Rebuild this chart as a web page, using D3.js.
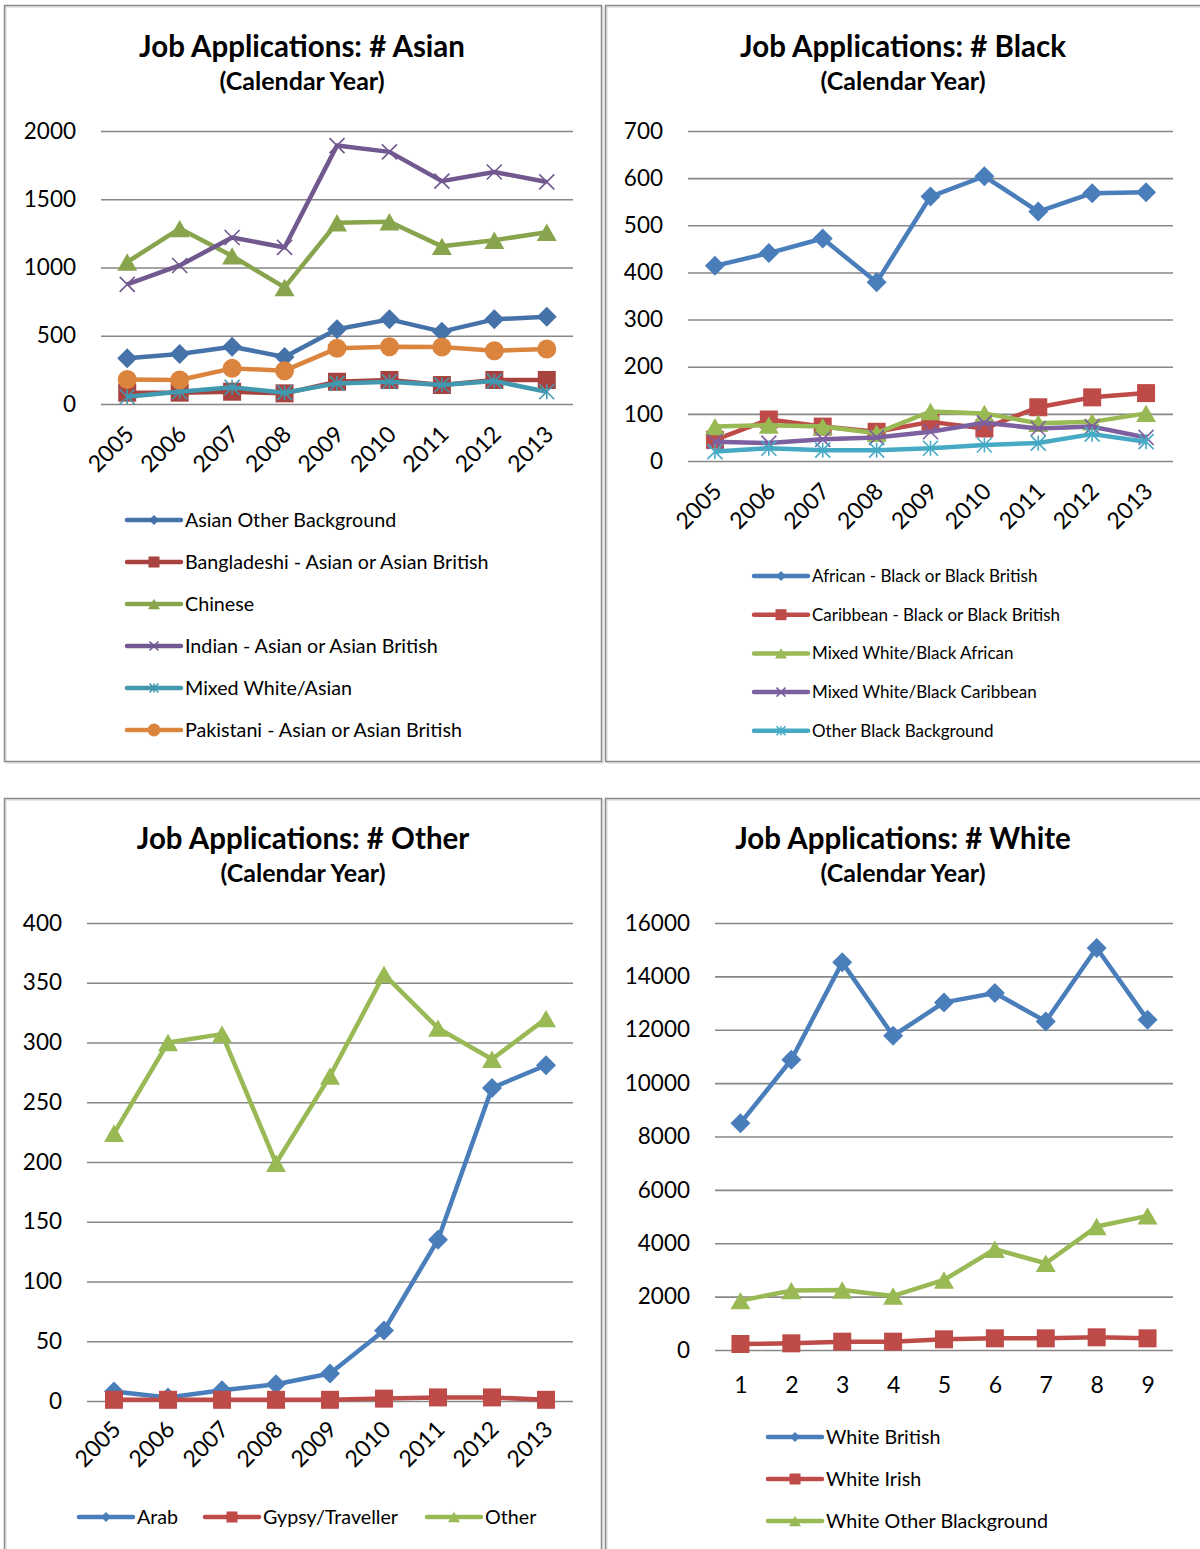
<!DOCTYPE html>
<html>
<head>
<meta charset="utf-8">
<script src="https://cdn.jsdelivr.net/npm/d3@7"></script>
<style>
  body { margin: 0; background: #fff; }
  svg { display: block; font-family: Lato, "Open Sans", sans-serif; }
</style>
</head>
<body>
<svg id="charts" width="1200" height="1549"></svg>
<script>
const svg = d3.select('#charts');

// ---- data ----
const years = ['2005', '2006', '2007', '2008', '2009', '2010', '2011', '2012', '2013'];
const months = ['1', '2', '3', '4', '5', '6', '7', '8', '9'];

const asianNames = ['Asian Other Background', 'Bangladeshi - Asian or Asian British', 'Chinese',
  'Indian - Asian or Asian British', 'Mixed White/Asian', 'Pakistani - Asian or Asian British'];
const asianOther = [335, 366, 420, 344, 547, 620, 530, 620, 640];
const bangladeshi = [83, 83, 90, 78, 163, 176, 139, 176, 176];
const chinese = [1040, 1285, 1085, 854, 1328, 1335, 1155, 1200, 1258];
const indian = [876, 1015, 1220, 1147, 1893, 1847, 1633, 1700, 1627];
const mixedWhiteAsian = [53, 90, 122, 83, 151, 163, 139, 168, 90];
const pakistani = [180, 176, 261, 244, 408, 420, 418, 390, 403];
const asianTicks = [0, 500, 1000, 1500, 2000];

const blackNames = ['African - Black or Black British', 'Caribbean - Black or Black British',
  'Mixed White/Black African', 'Mixed White/Black Caribbean', 'Other Black Background'];
const african = [414, 441, 472, 379, 561, 604, 529, 568, 570];
const caribbean = [45, 88, 73, 62, 83, 69, 114, 135, 144];
const mixedBlackAfrican = [73, 76, 73, 59, 105, 101, 80, 83, 101];
const mixedBlackCaribbean = [41, 38, 46, 50, 62, 81, 69, 73, 50];
const otherBlack = [20, 27, 23, 23, 27, 34, 38, 57, 41];
const blackTicks = [0, 100, 200, 300, 400, 500, 600, 700];

const otherNames = ['Arab', 'Gypsy/Traveller', 'Other'];
const arab = [8, 3, 9, 14, 23, 59, 135, 262, 281];
const gypsy = [1, 1, 1, 1, 1, 2, 3, 3, 1];
const otherGroup = [224, 300, 307, 199, 272, 357, 312, 286, 320];
const otherTicks = [0, 50, 100, 150, 200, 250, 300, 350, 400];

const whiteNames = ['White British', 'White Irish', 'White Other Blackground'];
const whiteBritish = [8500, 10875, 14525, 11775, 13025, 13375, 12313, 15063, 12375];
const whiteIrish = [225, 250, 312, 312, 400, 437, 437, 475, 437];
const whiteOther = [1850, 2225, 2250, 2025, 2625, 3775, 3250, 4625, 5025];
const whiteTicks = [0, 2000, 4000, 6000, 8000, 10000, 12000, 14000, 16000];

const shapes = ['diamond', 'square', 'triangle', 'x', 'asterisk', 'circle'];
const darkColors = ['#4672aa', '#a8423f', '#88a54e', '#71588f', '#4198af', '#db843d'];
const colors = ['#4a7ebb', '#be4b48', '#98b954', '#7d60a0', '#46aac5', '#f79646'];

// ---- helpers ----
function marker(g, shape, size, color) {
  if (shape === 'diamond') {
    let h = size / 2;
    g.append('path').attr('d', `M0,${-h}L${h},0L0,${h}L${-h},0Z`).attr('fill', color);
  } else if (shape === 'square') {
    g.append('rect').attr('x', -size / 2).attr('y', -size / 2)
      .attr('width', size).attr('height', size).attr('fill', color);
  } else if (shape === 'triangle') {
    let h = size * 0.87 / 2, w = size / 2;
    g.append('path').attr('d', `M0,${-h}L${w},${h}L${-w},${h}Z`).attr('fill', color);
  } else if (shape === 'circle') {
    g.append('circle').attr('r', size / 2).attr('fill', color);
  } else {
    let h = size / 2;
    let segs = [[[-h, -h], [h, h]], [[-h, h], [h, -h]]];
    if (shape === 'asterisk') segs.push([[0, -h], [0, h]]);
    segs.forEach(s => {
      g.append('path').attr('d', d3.line()(s)).attr('stroke', color)
        .attr('stroke-width', 1.6).attr('fill', 'none');
    });
  }
}

function panelBox(x, y, w, h) {
  svg.append('rect').attr('x', x + 1.5).attr('y', y + 1.5).attr('width', w).attr('height', h)
    .attr('fill', 'none').attr('stroke', '#d4d4d4').attr('stroke-width', 1);
  svg.append('rect').attr('x', x).attr('y', y).attr('width', w).attr('height', h)
    .attr('fill', 'none').attr('stroke', '#8a8a8a').attr('stroke-width', 1.5);
}

function drawChart(cfg) {
  const g = svg.append('g');

  g.append('text').attr('x', cfg.cx).attr('y', cfg.titleY)
    .attr('text-anchor', 'middle').attr('font-weight', 'bold').attr('font-size', 29.5)
    .text(cfg.title);
  g.append('text').attr('x', cfg.cx).attr('y', cfg.titleY + 33)
    .attr('text-anchor', 'middle').attr('font-weight', 'bold').attr('font-size', 25)
    .text('(Calendar Year)');

  const x = d3.scalePoint().domain(cfg.cats).range([cfg.left, cfg.right]).padding(0.5);
  const y = d3.scaleLinear().domain([0, d3.max(cfg.ticks)]).range([cfg.bottom, cfg.top]);

  const ya = g.append('g').attr('transform', `translate(${cfg.left},0)`)
    .call(d3.axisLeft(y).tickValues(cfg.ticks).tickFormat(d3.format('d'))
      .tickSize(-(cfg.right - cfg.left)).tickPadding(25));
  ya.select('.domain').remove();
  ya.selectAll('line').attr('stroke', '#878787').attr('stroke-width', 1.6);
  ya.selectAll('text').attr('font-size', 22.5).attr('fill', '#000')
    .attr('font-family', 'Lato, "Open Sans", sans-serif');

  const xa = g.append('g').attr('transform', `translate(0,${cfg.bottom})`)
    .call(d3.axisBottom(x).tickSize(0));
  xa.select('.domain').remove();
  const xt = xa.selectAll('text').attr('font-size', 23).attr('fill', '#000')
    .attr('font-family', 'Lato, "Open Sans", sans-serif');
  if (cfg.rotate) {
    xt.attr('y', 0).attr('dy', '0.35em').attr('text-anchor', 'end')
      .attr('transform', `translate(2,${cfg.rotate}) rotate(-45)`);
  } else {
    xt.attr('y', 35).attr('dy', '0.35em');
  }

  const line = d3.line().x((d, i) => x(cfg.cats[i])).y(d => y(d));
  cfg.series.forEach((vals, k) => {
    const col = cfg.colors[k];
    g.append('path').attr('d', line(vals)).attr('fill', 'none')
      .attr('stroke', col).attr('stroke-width', 4.5).attr('stroke-linejoin', 'round');
    vals.forEach((v, i) => {
      const m = g.append('g').attr('transform', `translate(${x(cfg.cats[i])},${y(v)})`);
      marker(m, shapes[k], cfg.msize[shapes[k]], col);
    });
  });

  // legend
  cfg.names.forEach((name, k) => {
    const lx = cfg.legend.xs ? cfg.legend.xs[k] : cfg.legend.x;
    const ly = cfg.legend.xs ? cfg.legend.y : cfg.legend.y + k * cfg.legend.dy;
    const col = cfg.colors[k];
    g.append('line').attr('x1', lx).attr('x2', lx + 54).attr('y1', ly).attr('y2', ly)
      .attr('stroke', col).attr('stroke-width', 4.5).attr('stroke-linecap', 'round');
    const m = g.append('g').attr('transform', `translate(${lx + 27},${ly})`);
    marker(m, shapes[k], cfg.legend.msize[shapes[k]], col);
    g.append('text').attr('x', lx + 58).attr('y', ly).attr('dy', '0.35em')
      .attr('font-size', cfg.legend.font).text(name);
  });
}

const bigMarks = {diamond: 20, square: 18, triangle: 20, circle: 19, x: 15, asterisk: 15};
const legMarks = {diamond: 10, square: 11, triangle: 12, circle: 13, x: 9, asterisk: 9};

panelBox(4.5, 5.5, 597, 756);
panelBox(605.5, 5.5, 620, 756);
panelBox(4.5, 798.5, 597, 800);
panelBox(605.5, 798.5, 620, 800);

drawChart({
  title: 'Job Applications: # Asian', cx: 302, titleY: 57,
  cats: years, left: 101, right: 573, top: 131, bottom: 404, ticks: asianTicks, rotate: 26,
  series: [asianOther, bangladeshi, chinese, indian, mixedWhiteAsian, pakistani],
  names: asianNames, colors: darkColors, msize: bigMarks,
  legend: {x: 127, y: 520, dy: 42, font: 19.7, msize: legMarks}
});

drawChart({
  title: 'Job Applications: # Black', cx: 903, titleY: 57,
  cats: years, left: 688, right: 1173, top: 131, bottom: 461, ticks: blackTicks, rotate: 26,
  series: [african, caribbean, mixedBlackAfrican, mixedBlackCaribbean, otherBlack],
  names: blackNames, colors: colors, msize: bigMarks,
  legend: {x: 754, y: 576, dy: 38.7, font: 17, msize: legMarks}
});

drawChart({
  title: 'Job Applications: # Other', cx: 303, titleY: 849,
  cats: years, left: 87, right: 573, top: 923, bottom: 1401, ticks: otherTicks, rotate: 24,
  series: [arab, gypsy, otherGroup],
  names: otherNames, colors: colors, msize: bigMarks,
  legend: {xs: [79, 205, 427], y: 1517, font: 19.7, msize: legMarks}
});

drawChart({
  title: 'Job Applications: # White', cx: 903, titleY: 849,
  cats: months, left: 715, right: 1173, top: 923, bottom: 1350, ticks: whiteTicks, rotate: 0,
  series: [whiteBritish, whiteIrish, whiteOther],
  names: whiteNames, colors: colors, msize: bigMarks,
  legend: {x: 768, y: 1437, dy: 42, font: 19.7, msize: legMarks}
});
</script>
</body>
</html>
